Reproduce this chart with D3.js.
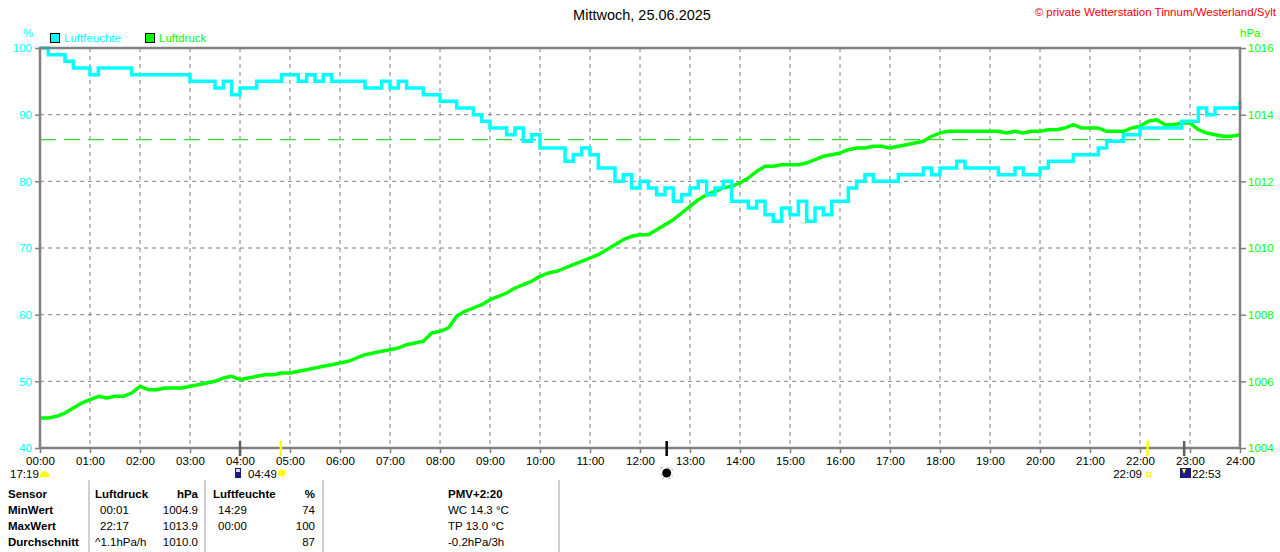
<!DOCTYPE html>
<html>
<head>
<meta charset="utf-8">
<script src="https://cdn.jsdelivr.net/npm/d3@7"></script>
<style>
  html, body { margin: 0; padding: 0; background: #fff; }
  svg { display: block; font-family: "Liberation Sans", Arial, sans-serif; }
</style>
</head>
<body>
<svg id="chart" width="1280" height="552"></svg>
<script>
// ── Data (10-minute samples, 00:00 … 24:00) ────────────────────────────────
const STEP_MIN = 10;

const humidity = [
  100, 99, 99, 98, 97, 97,      // 00
   96, 97, 97, 97, 97, 96,      // 01
   96, 96, 96, 96, 96, 96,      // 02
   95, 95, 95, 94, 95, 93,      // 03
   94, 94, 95, 95, 95, 96,      // 04
   96, 95, 96, 95, 96, 95,      // 05
   95, 95, 95, 94, 94, 95,      // 06
   94, 95, 94, 94, 93, 93,      // 07
   92, 92, 91, 91, 90, 89,      // 08
   88, 88, 87, 88, 86, 87,      // 09
   85, 85, 85, 83, 84, 85,      // 10
   84, 82, 82, 80, 81, 79,      // 11
   80, 79, 78, 79, 77, 78,      // 12
   79, 80, 78, 79, 80, 77,      // 13
   77, 76, 77, 75, 74, 76,      // 14
   75, 77, 74, 76, 75, 77,      // 15
   77, 79, 80, 81, 80, 80,      // 16
   80, 81, 81, 81, 82, 81,      // 17
   82, 82, 83, 82, 82, 82,      // 18
   82, 81, 81, 82, 81, 81,      // 19
   82, 83, 83, 83, 84, 84,      // 20
   84, 85, 86, 86, 87, 87,      // 21
   88, 88, 88, 88, 88, 89,      // 22
   89, 91, 90, 91, 91, 91,      // 23
   92                           // 24
];

const pressure = [
  1004.9, 1004.9, 1004.95, 1005.05, 1005.2, 1005.35,   // 00
  1005.45, 1005.55, 1005.5, 1005.55, 1005.55, 1005.65, // 01
  1005.85, 1005.75, 1005.75, 1005.8, 1005.8, 1005.8,   // 02
  1005.85, 1005.9, 1005.95, 1006.0, 1006.1, 1006.15,   // 03
  1006.05, 1006.1, 1006.15, 1006.2, 1006.2, 1006.25,   // 04
  1006.25, 1006.3, 1006.35, 1006.4, 1006.45, 1006.5,   // 05
  1006.55, 1006.6, 1006.7, 1006.8, 1006.85, 1006.9,    // 06
  1006.95, 1007.0, 1007.1, 1007.15, 1007.2, 1007.45,   // 07
  1007.5, 1007.6, 1007.95, 1008.1, 1008.2, 1008.3,     // 08
  1008.45, 1008.55, 1008.65, 1008.8, 1008.9, 1009.0,   // 09
  1009.15, 1009.25, 1009.3, 1009.4, 1009.5, 1009.6,    // 10
  1009.7, 1009.8, 1009.95, 1010.1, 1010.25, 1010.35,   // 11
  1010.4, 1010.4, 1010.55, 1010.7, 1010.85, 1011.05,   // 12
  1011.25, 1011.45, 1011.6, 1011.7, 1011.8, 1011.85,   // 13
  1011.95, 1012.1, 1012.3, 1012.45, 1012.45, 1012.5,   // 14
  1012.5, 1012.5, 1012.55, 1012.65, 1012.75, 1012.8,   // 15
  1012.85, 1012.95, 1013.0, 1013.0, 1013.05, 1013.05,  // 16
  1013.0, 1013.05, 1013.1, 1013.15, 1013.2, 1013.35,   // 17
  1013.45, 1013.5, 1013.5, 1013.5, 1013.5, 1013.5,     // 18
  1013.5, 1013.5, 1013.45, 1013.5, 1013.45, 1013.5,    // 19
  1013.5, 1013.55, 1013.55, 1013.6, 1013.7, 1013.6,    // 20
  1013.6, 1013.6, 1013.5, 1013.5, 1013.5, 1013.6,      // 21
  1013.65, 1013.8, 1013.85, 1013.7, 1013.7, 1013.75,   // 22
  1013.75, 1013.55, 1013.45, 1013.4, 1013.35, 1013.35, // 23
  1013.4                                               // 24
];

const hourLabels = ['00:00','01:00','02:00','03:00','04:00','05:00','06:00','07:00',
  '08:00','09:00','10:00','11:00','12:00','13:00','14:00','15:00','16:00','17:00',
  '18:00','19:00','20:00','21:00','22:00','23:00','24:00'];
const humTicks  = [40, 50, 60, 70, 80, 90, 100];
const presTicks = [1004, 1006, 1008, 1010, 1012, 1014, 1016];
const refPressure = 1013.25;

// astronomical markers below the time axis (minutes since midnight)
const markers = [
  { min: 240,  color: '#606060' },   // moon rise
  { min: 289,  color: '#ffff00' },   // sunrise 04:49
  { min: 752,  color: '#000000' },   // culmination
  { min: 1329, color: '#ffff00' },   // sunset 22:09
  { min: 1373, color: '#606060' }    // moon set 22:53
];

const tableRows = [
  ['Sensor',       'Luftdruck',  'hPa',    'Luftfeuchte', '%'],
  ['MinWert',      '00:01',      '1004.9', '14:29',       '74'],
  ['MaxWert',      '22:17',      '1013.9', '00:00',       '100'],
  ['Durchschnitt', '^1.1hPa/h',  '1010.0', '',            '87']
];
const extraLines = ['PMV+2:20', 'WC 14.3 °C', 'TP 13.0 °C', '-0.2hPa/3h'];

// ── Scales ──────────────────────────────────────────────────────────────────
const svg = d3.select('#chart');
const x  = d3.scaleLinear().domain([0, 1440]).range([40, 1240]);
const yH = d3.scaleLinear().domain([40, 100]).range([448, 48]);
const yP = d3.scaleLinear().domain([1004, 1016]).range([448, 48]);
const GRID = '#808080';
const CYAN = '#00ffff';
const GREEN = '#00ff00';

// ── Grid ────────────────────────────────────────────────────────────────────
const grid = svg.append('g');
grid.selectAll('line.v')
  .data(d3.range(60, 1440, 60))
  .enter().append('line')
  .attr('x1', d => x(d)).attr('x2', d => x(d))
  .attr('y1', yH(100)).attr('y2', yH(40))
  .attr('stroke', GRID).attr('stroke-dasharray', '4,4');
grid.selectAll('line.h')
  .data(humTicks.slice(1, -1))
  .enter().append('line')
  .attr('x1', x(0)).attr('x2', x(1440))
  .attr('y1', d => yH(d)).attr('y2', d => yH(d))
  .attr('stroke', GRID).attr('stroke-dasharray', '4,4');

// reference pressure line
svg.append('line')
  .attr('x1', x(0)).attr('x2', x(1440))
  .attr('y1', yP(refPressure)).attr('y2', yP(refPressure))
  .attr('stroke', '#33dd33').attr('stroke-width', 1.2)
  .attr('stroke-dasharray', '16,8');

// ── Series ──────────────────────────────────────────────────────────────────
const humLine = d3.line()
  .x((d, i) => x(i * STEP_MIN))
  .y(d => yH(d))
  .curve(d3.curveStepAfter);
const presLine = d3.line()
  .x((d, i) => x(i * STEP_MIN))
  .y(d => yP(d));

svg.append('path').datum(pressure)
  .attr('d', presLine)
  .attr('fill', 'none').attr('stroke', GREEN).attr('stroke-width', 3.5)
  .attr('stroke-linejoin', 'round');
svg.append('path').datum(humidity)
  .attr('d', humLine)
  .attr('fill', 'none').attr('stroke', CYAN).attr('stroke-width', 3.5);

// ── Axes ────────────────────────────────────────────────────────────────────
const left = svg.append('g').attr('transform', `translate(${x(0)},0)`)
  .call(d3.axisLeft(yH).tickValues(humTicks).tickFormat(d3.format('d'))
    .tickSize(5).tickPadding(3));
const right = svg.append('g').attr('transform', `translate(${x(1440)},0)`)
  .call(d3.axisRight(yP).tickValues(presTicks).tickFormat(d3.format('d'))
    .tickSize(6).tickPadding(2));
const bottom = svg.append('g').attr('transform', `translate(0,${yH(40)})`)
  .call(d3.axisBottom(x).tickValues(d3.range(0, 1441, 60))
    .tickFormat((d, i) => hourLabels[i]).tickSize(5).tickPadding(4));

[left, right, bottom].forEach(g => {
  g.select('.domain').remove();
  g.selectAll('.tick line').attr('stroke', GRID).attr('stroke-width', 1.5);
  g.selectAll('text').attr('font-size', 11.5)
    .attr('font-family', '"Liberation Sans", Arial, sans-serif');
});
left.selectAll('text').attr('fill', CYAN);
right.selectAll('text').attr('fill', GREEN);
bottom.selectAll('text').attr('fill', '#000');

// frame
svg.append('rect')
  .attr('x', x(0)).attr('y', yH(100))
  .attr('width', x(1440) - x(0)).attr('height', yH(40) - yH(100))
  .attr('fill', 'none').attr('stroke', GRID).attr('stroke-width', 2.5);

// ── Titles & legend ─────────────────────────────────────────────────────────
svg.append('text').attr('x', 642).attr('y', 20).attr('text-anchor', 'middle')
  .attr('font-size', 14.5).attr('fill', '#000').text('Mittwoch, 25.06.2025');
svg.append('text').attr('x', 1276).attr('y', 16).attr('text-anchor', 'end')
  .attr('font-size', 11.5).attr('fill', '#ff0000')
  .text('© private Wetterstation Tinnum/Westerland/Sylt');
svg.append('text').attr('x', 23).attr('y', 37).attr('font-size', 11.5)
  .attr('fill', CYAN).text('%');
svg.append('text').attr('x', 1240).attr('y', 37).attr('font-size', 11.5)
  .attr('fill', GREEN).text('hPa');

const legend = [
  { label: 'Luftfeuchte', color: CYAN,  x: 50 },
  { label: 'Luftdruck',   color: GREEN, x: 145 }
];
legend.forEach(l => {
  svg.append('rect').attr('x', l.x + 0.5).attr('y', 33.5).attr('width', 9).attr('height', 9)
    .attr('fill', l.color).attr('stroke', '#000');
  svg.append('text').attr('x', l.x + 14).attr('y', 42).attr('font-size', 11.5)
    .attr('fill', l.color).text(l.label);
});

// ── Astro markers ───────────────────────────────────────────────────────────
markers.forEach(m => {
  svg.append('line')
    .attr('x1', x(m.min)).attr('x2', x(m.min))
    .attr('y1', 441).attr('y2', 456)
    .attr('stroke', m.color).attr('stroke-width', 2.5);
});
const mk = svg.append('g').attr('font-size', 11.5).attr('fill', '#000');
mk.append('text').attr('x', 10).attr('y', 478).text('17:19');
mk.append('path').attr('d', 'M40,477 L40,474 Q44.5,468 49,474 L49,477 Z').attr('fill', '#ffff00');
mk.append('rect').attr('x', 235).attr('y', 468).attr('width', 6).attr('height', 10).attr('fill', '#1a1a80');
mk.append('rect').attr('x', 236).attr('y', 469).attr('width', 4).attr('height', 3).attr('fill', '#ddd');
mk.append('text').attr('x', 248).attr('y', 478).text('04:49');
mk.append('circle').attr('cx', x(289) + 1).attr('cy', 473).attr('r', 3.5).attr('fill', '#ffff00');
mk.append('circle').attr('cx', x(289) + 1).attr('cy', 473).attr('r', 5.5)
  .attr('fill', 'none').attr('stroke', '#ffff99').attr('stroke-dasharray', '1.5,1.5');
mk.append('circle').attr('cx', x(752)).attr('cy', 473).attr('r', 4.5).attr('fill', '#000');
mk.append('rect').attr('x', x(752) - 5.5).attr('y', 467.5).attr('width', 11).attr('height', 11)
  .attr('fill', 'none').attr('stroke', '#aaa').attr('stroke-width', 0.8).attr('stroke-dasharray', '2,4');
mk.append('text').attr('x', 1142).attr('y', 478).attr('text-anchor', 'end').text('22:09');
mk.append('rect').attr('x', 1146.5).attr('y', 472.5).attr('width', 4).attr('height', 4)
  .attr('fill', 'none').attr('stroke', '#ffff00');
mk.append('rect').attr('x', 1180).attr('y', 468).attr('width', 11).attr('height', 10).attr('fill', '#1a1a80');
mk.append('path').attr('d', 'M1182,469 L1186,469 L1184,474 Z').attr('fill', '#ffff00');
mk.append('text').attr('x', 1192).attr('y', 478).text('22:53');

// ── Summary table ───────────────────────────────────────────────────────────
[89, 205, 323, 559].forEach(sx => {
  svg.append('line').attr('x1', sx).attr('x2', sx).attr('y1', 480).attr('y2', 552)
    .attr('stroke', '#a0a0a0');
});
const colX   = [8, 100, 198, 218, 315];
const colAnc = ['start', 'start', 'end', 'start', 'end'];
const tbl = svg.append('g').attr('font-size', 11.5).attr('fill', '#000');
tableRows.forEach((row, r) => {
  row.forEach((cell, c) => {
    const header = r === 0 || c === 0;
    let cx = colX[c];
    if (r === 0 && c === 1) cx = 95;
    if (r === 0 && c === 3) cx = 213;
    if (r === 3 && c === 1) cx = 95;
    tbl.append('text')
      .attr('x', cx).attr('y', 498 + r * 16)
      .attr('text-anchor', colAnc[c])
      .attr('font-weight', header ? 'bold' : 'normal')
      .text(cell);
  });
});
extraLines.forEach((t, i) => {
  tbl.append('text').attr('x', 448).attr('y', 498 + i * 16)
    .attr('font-weight', i === 0 ? 'bold' : 'normal').text(t);
});
</script>
</body>
</html>
